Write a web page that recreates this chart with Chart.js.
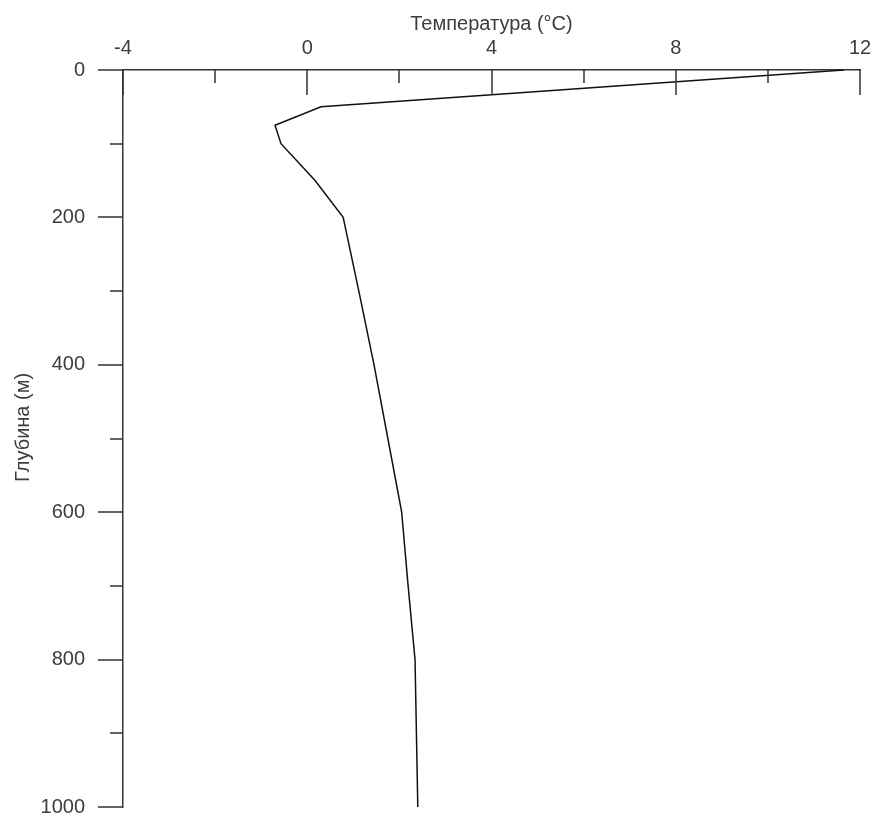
<!DOCTYPE html>
<html>
<head>
<meta charset="utf-8">
<title>Температура / глубина</title>
<script src="https://cdn.jsdelivr.net/npm/chart.js@4"></script>
<style>
  html, body { margin: 0; padding: 0; background: #fff; overflow: hidden; }
  canvas { display: block; }
</style>
</head>
<body>
<canvas id="profile" width="877" height="818"></canvas>
<script>
// Temperature profile: depth (m, downwards) against temperature (°C).
const DEPTHS = [0, 50, 75, 100, 150, 200, 300, 400, 500, 600, 700, 800, 900, 1000];
const TEMPS = [11.65, 0.3, -0.7, -0.57, 0.17, 0.78, 1.12, 1.45, 1.75, 2.05, 2.19, 2.34, 2.37, 2.4];

const TEMP_TICKS = [-4, 0, 4, 8, 12];
const TEMP_MINOR = [-2, 2, 6, 10];
const DEPTH_TICKS = [0, 200, 400, 600, 800, 1000];
const DEPTH_MINOR = [100, 300, 500, 700, 900];

const AXIS_COLOR = '#333';
const LABEL_COLOR = '#3c3c3c';

Chart.defaults.font.family = '"Liberation Sans", Arial, sans-serif';

// Tick marks: x ticks hang down from the top axis, y ticks stick out left.
const tickMarks = {
  id: 'tickMarks',
  afterDatasetsDraw(chart) {
    const { ctx, scales: { x, y } } = chart;
    ctx.save();
    ctx.strokeStyle = AXIS_COLOR;
    ctx.lineWidth = 1.5;
    ctx.beginPath();
    const xMark = (v, len) => {
      const px = Math.round(x.getPixelForValue(v));
      ctx.moveTo(px, y.top);
      ctx.lineTo(px, y.top + len);
    };
    const yMark = (v, len) => {
      const py = Math.round(y.getPixelForValue(v));
      ctx.moveTo(x.left, py);
      ctx.lineTo(x.left - len, py);
    };
    TEMP_TICKS.forEach((v) => xMark(v, 25));
    TEMP_MINOR.forEach((v) => xMark(v, 13));
    DEPTH_TICKS.forEach((v) => yMark(v, 25));
    DEPTH_MINOR.forEach((v) => yMark(v, 13));
    ctx.stroke();
    ctx.restore();
  },
};

const points = DEPTHS.map((d, i) => ({ x: TEMPS[i], y: d }));

new Chart(document.getElementById('profile'), {
  type: 'line',
  data: {
    datasets: [{
      label: 'Температура',
      data: points,
      borderColor: '#111',
      borderWidth: 1.5,
      pointRadius: 0,
      tension: 0,
      fill: false,
      clip: false,
    }],
  },
  options: {
    responsive: false,
    animation: false,
    layout: { padding: { left: 0, top: 0, right: 17, bottom: 11 } },
    plugins: { legend: { display: false }, tooltip: { enabled: false } },
    scales: {
      x: {
        type: 'linear',
        position: 'top',
        min: -4,
        max: 12,
        afterBuildTicks: (s) => { s.ticks = TEMP_TICKS.map((v) => ({ value: v })); },
        // fixed box: the plot area starts at y = 70 and ends 17px from the right
        afterFit: (s) => {
          s.height = 70;
          s.paddingLeft = 0;
          s.paddingRight = 0;
        },
        grid: { display: false },
        border: { display: true, color: AXIS_COLOR, width: 1.5 },
        ticks: {
          padding: 2,
          color: LABEL_COLOR,
          font: { size: 20 },
          maxRotation: 0,
          callback: (v) => String(v),
        },
        title: {
          display: true,
          text: 'Температура (°C)',
          color: LABEL_COLOR,
          font: { size: 20 },
          padding: { top: 12, bottom: 0 },
        },
      },
      y: {
        type: 'linear',
        reverse: true,
        min: 0,
        max: 1000,
        afterBuildTicks: (s) => { s.ticks = DEPTH_TICKS.map((v) => ({ value: v })); },
        afterFit: (s) => {
          s.width = 123;
          s.paddingTop = 0;
          s.paddingBottom = 0;
        },
        grid: { display: false },
        border: { display: true, color: AXIS_COLOR, width: 1.5 },
        ticks: {
          padding: 30,
          color: LABEL_COLOR,
          font: { size: 20 },
          callback: (v) => String(v),
        },
        title: {
          display: true,
          // leading no-break spaces lift the label a little above the axis centre
          text: '\u00a0\u00a0\u00a0\u00a0Глубина (м)',
          color: LABEL_COLOR,
          font: { size: 20 },
          padding: { top: 11, bottom: 0 },
        },
      },
    },
  },
  plugins: [tickMarks],
});
</script>
</body>
</html>
